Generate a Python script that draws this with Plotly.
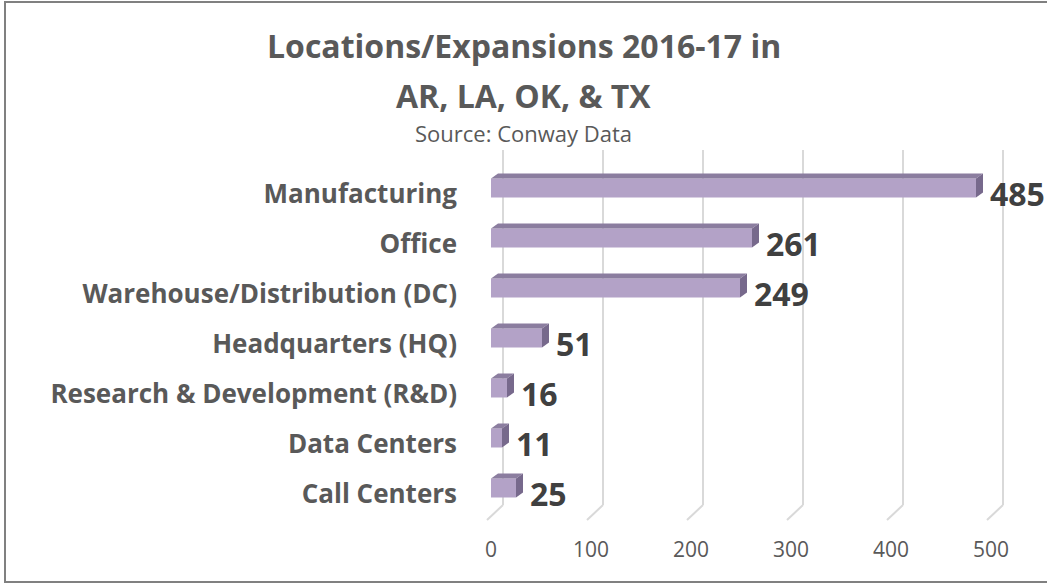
import plotly.graph_objects as go

categories = ["Manufacturing", "Office", "Warehouse/Distribution (DC)", "Headquarters (HQ)",
              "Research & Development (R&D)", "Data Centers", "Call Centers"]
values = [485, 261, 249, 51, 16, 11, 25]
x_ticks = [0, 100, 200, 300, 400, 500]

title_line1 = "Locations/Expansions 2016-17 in"
title_line2 = "AR, LA, OK, & TX"
subtitle = "Source: Conway Data"

W, H = 1047, 584
ml, mr, mt, mb = 486, 41, 148, 61
plot_w = W - ml - mr
plot_h = H - mt - mb
FONT = "Open Sans"
GRAY = "#595959"

def paper_x(px):
    return (px - ml) / plot_w

def paper_y(py):
    return (H - mb - py) / plot_h

idx = list(range(len(categories)))
bar_w = 0.38
dx = 7        # 3D depth in x (data units)
dy = 0.1      # 3D depth in y (category units)

fig = go.Figure()
fig.add_trace(go.Bar(
    x=values, y=idx, orientation="h", width=bar_w,
    marker=dict(color="#b3a2c7", line=dict(width=0)),
    hoverinfo="x+y", showlegend=False,
))

shapes = []
# 3D gridlines (back wall + floor diagonal)
for t in x_ticks:
    shapes.append(dict(type="line", xref="x", yref="y", x0=t + 12, x1=t + 12, y0=-0.76, y1=6.34,
                       line=dict(color="#d9d9d9", width=2), layer="below"))
    shapes.append(dict(type="line", xref="x", yref="y", x0=t + 12, x1=t - 4, y0=6.34, y1=6.64,
                       line=dict(color="#d9d9d9", width=2), layer="below"))

# 3D faces of bars
for i, v in zip(idx, values):
    top = i - bar_w / 2
    bot = i + bar_w / 2
    shapes.append(dict(type="path", xref="x", yref="y",
                       path=f"M 0 {top} L {v} {top} L {v + dx} {top - dy} L {dx} {top - dy} Z",
                       fillcolor="#8b7d9f", line=dict(width=0), layer="above"))
    shapes.append(dict(type="path", xref="x", yref="y",
                       path=f"M {v} {top} L {v + dx} {top - dy} L {v + dx} {bot - dy} L {v} {bot} Z",
                       fillcolor="#77698c", line=dict(width=0), layer="above"))

# chart border
shapes.append(dict(type="rect", xref="paper", yref="paper",
                   x0=paper_x(5), x1=paper_x(W + 10), y0=paper_y(582), y1=paper_y(2),
                   line=dict(color="#808080", width=2), fillcolor="rgba(0,0,0,0)", layer="below"))

annotations = []
for i, v in zip(idx, values):
    annotations.append(dict(x=v + dx, y=i, xref="x", yref="y", text=str(v),
                            xanchor="left", yanchor="middle", xshift=5, yshift=-5,
                            showarrow=False, font=dict(family=FONT, size=32, color="#404040", weight="bold")))

annotations += [
    dict(x=paper_x(W / 2), y=paper_y(45), xref="paper", yref="paper", text=title_line1, showarrow=False,
         xanchor="center", yanchor="middle", font=dict(family=FONT, size=32, color=GRAY, weight="bold")),
    dict(x=paper_x(W / 2), y=paper_y(95), xref="paper", yref="paper", text=title_line2, showarrow=False,
         xanchor="center", yanchor="middle", font=dict(family=FONT, size=32, color=GRAY, weight="bold")),
    dict(x=paper_x(W / 2), y=paper_y(133), xref="paper", yref="paper", text=subtitle, showarrow=False,
         xanchor="center", yanchor="middle", font=dict(family=FONT, size=22, color=GRAY)),
]

fig.update_layout(
    width=W, height=H,
    margin=dict(l=ml, r=mr, t=mt, b=mb),
    paper_bgcolor="white", plot_bgcolor="white",
    shapes=shapes, annotations=annotations,
    xaxis=dict(range=[-5, 515], tickvals=x_ticks, ticktext=[str(t) for t in x_ticks],
               showgrid=False, zeroline=False, showline=False, ticks="",
               tickfont=dict(family=FONT, size=21, color=GRAY), ticklabelstandoff=12),
    yaxis=dict(range=[6.7, -0.8], tickvals=[i + 0.12 for i in idx], ticktext=categories,
               showgrid=False, zeroline=False, showline=False, ticks="",
               tickfont=dict(family=FONT, size=26, color=GRAY, weight="bold"), ticklabelstandoff=28),
)

fig.write_html("out.html", config={"displayModeBar": False},
               post_script="document.body.style.margin='0';")
